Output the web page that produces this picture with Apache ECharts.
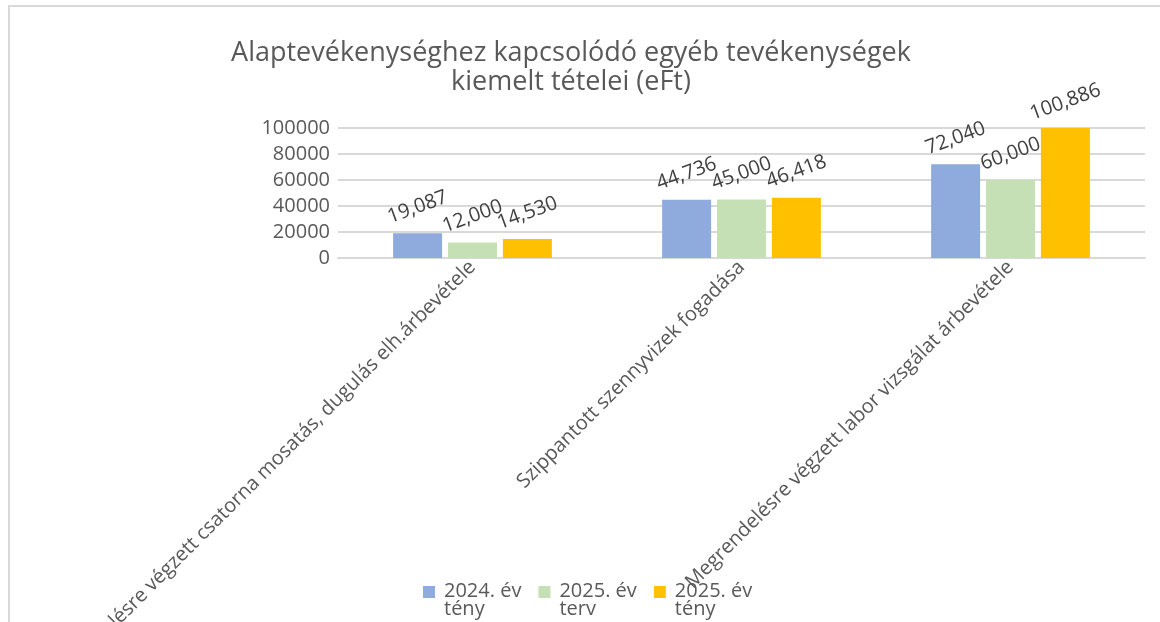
<!DOCTYPE html>
<html>
<head>
	<meta charset="utf-8">
	<title>Alaptevékenységhez kapcsolódó egyéb tevékenységek</title>
	<script src="https://cdn.jsdelivr.net/npm/echarts@6/dist/echarts.min.js"></script>
	<style type="text/css">
		* {
			padding: 0;
			margin: 0;
		}
		body {
			background: #fff;
		}
		#chart {
			position: absolute;
			left: 0;
			top: 0;
			width: 1160px;
			height: 622px;
		}
		.frame {
			position: absolute;
			left: 8px;
			top: 5px;
			width: 1160px;
			height: 630px;
			border-top: 2px solid #d9d9d9;
			border-left: 2px solid #d9d9d9;
			pointer-events: none;
		}
	</style>
</head>
<body>
	<div id="chart"></div>
	<div class="frame"></div>
	<script type="text/javascript">
		var categories = [
			'Megrendelésre végzett csatorna mosatás, dugulás elh.árbevétele',
			'Szippantott szennyvizek fogadása',
			'Megrendelésre végzett labor vizsgálat árbevétele'
		];
		var seriesNames = ['2024. év tény', '2025. év terv', '2025. év tény'];
		var tenyek2024 = [19087, 44736, 72040];
		var terv2025 = [12000, 45000, 60000];
		var tenyek2025 = [14530, 46418, 100886];
		var yTicks = [0, 20000, 40000, 60000, 80000, 100000];

		var colors = ['#8faadc', '#c5e0b4', '#ffc000'];
		var font = 'Open Sans';

		function makeSeries(name, data, color) {
			return {
				name: name,
				type: 'bar',
				data: data,
				barWidth: 49,
				barGap: '12%',
				itemStyle: { color: color },
				label: {
					show: true,
					position: 'top',
					distance: 26,
					rotate: 20,
					align: 'center',
					verticalAlign: 'middle',
					fontFamily: font,
					fontSize: 20,
					color: '#404040',
					formatter: function (p) { return p.value.toLocaleString('en-US'); }
				}
			};
		}

		var chart = echarts.init(document.getElementById('chart'));
		chart.setOption({
			animation: false,
			color: colors,
			title: {
				text: 'Alaptevékenységhez kapcsolódó egyéb tevékenységek\nkiemelt tételei (eFt)',
				left: 566,
				top: 34,
				textAlign: 'center',
				textStyle: {
					fontFamily: font,
					fontWeight: 'normal',
					fontSize: 27,
					lineHeight: 29,
					color: '#595959'
				}
			},
			legend: {
				left: 418,
				top: 576,
				itemWidth: 16,
				itemHeight: 28,
				itemGap: 17,
				// square drawn in the top corner so it sits beside the first text line
				icon: 'path://M0 0H12V12H0ZM16 28',
				formatter: function (name) { return name.replace(/ (\S+)$/, '\n$1'); },
				textStyle: {
					fontFamily: font,
					fontSize: 20,
					lineHeight: 18,
					color: '#595959'
				},
				data: seriesNames
			},
			grid: {
				left: 338,
				right: 15,
				top: 128,
				bottom: 364,
				containLabel: false,
				outerBoundsMode: 'none'
			},
			xAxis: {
				type: 'category',
				data: categories,
				axisLine: { lineStyle: { color: '#d9d9d9', width: 2 } },
				axisTick: { show: false },
				axisLabel: {
					interval: 0,
					rotate: 45,
					margin: 6,
					fontFamily: font,
					fontSize: 20,
					color: '#595959'
				}
			},
			yAxis: {
				type: 'value',
				min: yTicks[0],
				max: yTicks[yTicks.length - 1],
				interval: yTicks[1] - yTicks[0],
				axisLine: { show: false },
				axisTick: { show: false },
				splitLine: { lineStyle: { color: '#d9d9d9', width: 2 } },
				axisLabel: {
					margin: 8,
					fontFamily: font,
					fontSize: 20,
					color: '#595959',
					formatter: function (v) { return String(v); }
				}
			},
			series: [
				makeSeries(seriesNames[0], tenyek2024, colors[0]),
				makeSeries(seriesNames[1], terv2025, colors[1]),
				makeSeries(seriesNames[2], tenyek2025, colors[2])
			]
		});
	</script>
</body>
</html>
